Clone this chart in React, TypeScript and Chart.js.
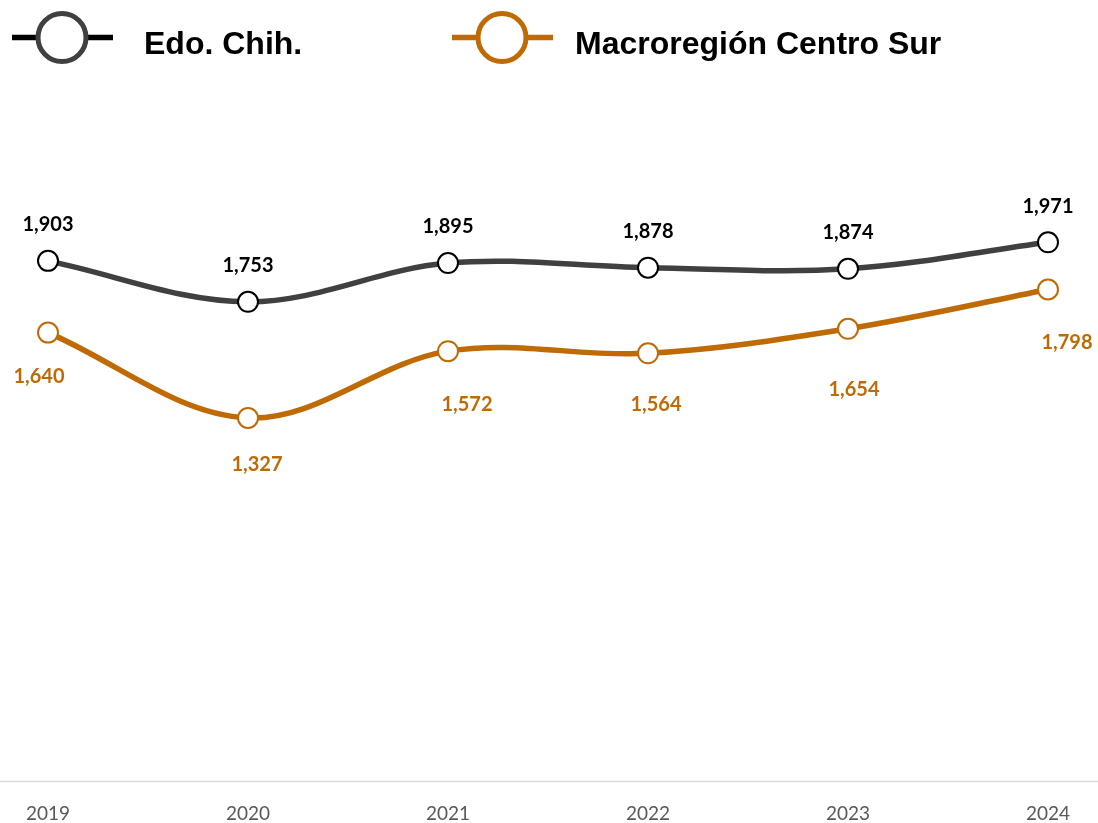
import React, { useEffect, useRef } from "react";
import { Chart, registerables } from "chart.js";

Chart.register(...registerables);

const years = ["2019", "2020", "2021", "2022", "2023", "2024"];
const edoChih = [1903, 1753, 1895, 1878, 1874, 1971];
const macroCentroSur = [1640, 1327, 1572, 1564, 1654, 1798];
const seriesNames = ["Edo. Chih.", "Macroregión Centro Sur"];

// label nudges (pixels) relative to each point, for the lower series
const macroLabelDx = [-9, 9, 19, 8, 6, 19];
const macroLabelDy = [44, 47, 53, 51, 61, 53];

const GRAY = "#404040";
const ORANGE = "#BF6A04";

const fmt = (v: number) => v.toLocaleString("en-US");

const labelsPlugin = {
  id: "valueLabels",
  afterDatasetsDraw(chart: any) {
    const ctx = chart.ctx;
    ctx.save();
    ctx.font = "bold 20px Lato";
    ctx.textAlign = "center";
    ctx.textBaseline = "middle";
    chart.data.datasets.forEach((ds: any, di: number) => {
      const meta = chart.getDatasetMeta(di);
      meta.data.forEach((pt: any, i: number) => {
        const v = ds.data[i];
        if (di === 0) {
          ctx.fillStyle = "#000000";
          ctx.fillText(fmt(v), pt.x, pt.y - 36);
        } else {
          ctx.fillStyle = ORANGE;
          ctx.fillText(fmt(v), pt.x + macroLabelDx[i], pt.y + macroLabelDy[i]);
        }
      });
    });
    ctx.restore();
  },
};

const decorPlugin = {
  id: "decor",
  beforeDatasetsDraw(chart: any) {
    const ctx = chart.ctx;
    const y = chart.chartArea.bottom + 1.5;
    ctx.save();
    ctx.strokeStyle = "#D9D9D9";
    ctx.lineWidth = 1.5;
    ctx.beginPath();
    ctx.moveTo(0, y);
    ctx.lineTo(chart.width, y);
    ctx.stroke();
    ctx.restore();
  },
  afterDraw(chart: any) {
    const ctx = chart.ctx;
    ctx.save();
    const items = [
      { cx: 62, tx: 144, line: "#000000", circ: GRAY, text: seriesNames[0] },
      { cx: 502, tx: 575, line: ORANGE, circ: ORANGE, text: seriesNames[1] },
    ];
    const cy = 37.5;
    items.forEach((it) => {
      ctx.strokeStyle = it.line;
      ctx.lineWidth = 5.5;
      ctx.beginPath();
      ctx.moveTo(it.cx - 50, cy);
      ctx.lineTo(it.cx + 51, cy);
      ctx.stroke();
      ctx.beginPath();
      ctx.arc(it.cx, cy, 24, 0, Math.PI * 2);
      ctx.fillStyle = "#ffffff";
      ctx.fill();
      ctx.strokeStyle = it.circ;
      ctx.lineWidth = 5;
      ctx.stroke();
      ctx.fillStyle = "#000000";
      ctx.font = "bold 32px 'Liberation Sans', Arial, sans-serif";
      ctx.textAlign = "left";
      ctx.textBaseline = "alphabetic";
      ctx.fillText(it.text, it.tx, 54);
    });
    ctx.restore();
  },
};

export default function App() {
  const ref = useRef<HTMLCanvasElement | null>(null);
  useEffect(() => {
    if (!ref.current) return;
    const chart = new Chart(ref.current, {
      type: "line",
      data: {
        labels: years,
        datasets: [
          {
            label: seriesNames[0],
            data: edoChih,
            borderColor: GRAY,
            borderWidth: 5.5,
            tension: 0.35,
            pointRadius: 10,
            pointBorderWidth: 2,
            pointBorderColor: "#000000",
            pointBackgroundColor: "#ffffff",
          },
          {
            label: seriesNames[1],
            data: macroCentroSur,
            borderColor: ORANGE,
            borderWidth: 5.5,
            tension: 0.35,
            pointRadius: 10,
            pointBorderWidth: 2,
            pointBorderColor: ORANGE,
            pointBackgroundColor: "#ffffff",
          },
        ],
      },
      options: {
        responsive: false,
        animation: false,
        layout: { padding: { left: 48, right: 50, top: 98, bottom: 0 } },
        plugins: { legend: { display: false }, tooltip: { enabled: false } },
        scales: {
          x: {
            offset: false,
            border: { display: false },
            grid: { display: false, drawTicks: false },
            ticks: {
              color: "#595959",
              font: { family: "Lato", size: 19 },
              padding: 22,
              maxRotation: 0,
              autoSkip: false,
            },
            afterFit(scale: any) {
              scale.height = 43;
            },
          },
          y: {
            display: false,
            min: 0,
            max: 2500,
          },
        },
      },
      plugins: [decorPlugin, labelsPlugin],
    });
    return () => chart.destroy();
  }, []);
  return (
    <div style={{ position: "fixed", left: 0, top: 0, width: 1098, height: 823, background: "#fff" }}>
      <canvas ref={ref} width={1098} height={823} style={{ width: 1098, height: 823, display: "block" }} />
    </div>
  );
}
